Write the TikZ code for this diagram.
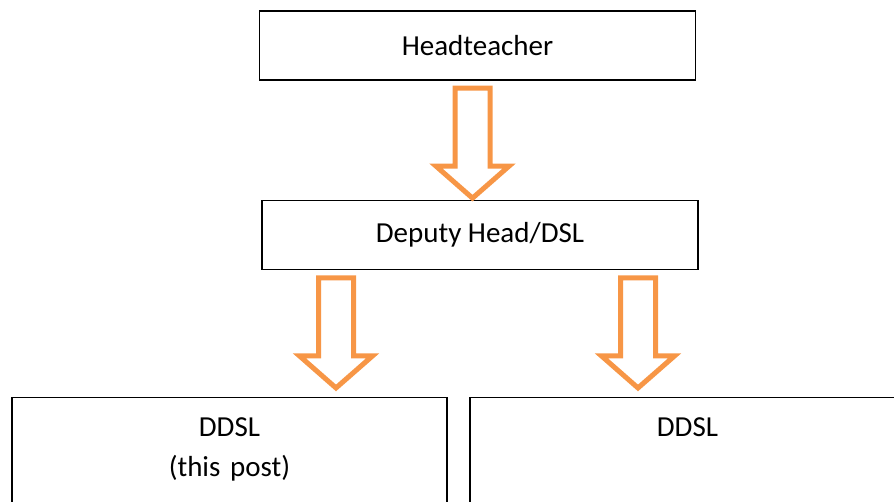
\documentclass[tikz,border=0pt]{standalone}
\usepackage{fontspec}
\setmainfont{Carlito}
\usepackage{tikz}
\usetikzlibrary{positioning}
\usetikzlibrary{calc}
\definecolor{arroworange}{HTML}{F79646}
\tikzset{auto, x=1pt, y=1pt, font=\fontsize{29}{40}\selectfont}
\tikzstyle{block} = [draw, line width=1.3pt, rectangle, minimum width=436pt, minimum height=69pt, text centered, align=center]
\tikzstyle{post} = [draw, line width=1.3pt, rectangle, minimum width=435pt, text width=400pt, align=center, inner ysep=20pt, text depth=90pt]
\tikzstyle{fat} = [draw=arroworange, line width=5pt, fill=white, line join=miter]
% block arrow pointing down from #1 (top middle of the shaft)
\newcommand{\fatarrow}[1]{
    \draw [fat] ($(#1)+(-17.5,0)$) -- ++(0,-78) -- ++(-19,0) -- ($(#1)+(0,-110)$)
        -- ($(#1)+(36.5,-78)$) -- ++(-19,0) -- ++(0,78) -- cycle;
}

\begin{document}
\begin{tikzpicture}
    \useasboundingbox (0,0) rectangle (894,-502);

    \node [block] (head) at (477.5,-45.5) {Headteacher};
    \node [block, below=119pt of head, xshift=2.5pt] (deputy) {Deputy Head/DSL};
    \node [post, anchor=north] (ddsl_a) at (229.5,-397) {DDSL\\(this post)};
    \node [post, anchor=north] (ddsl_b) at (687.5,-397) {DDSL};

    \coordinate (a_head) at ([xshift=-5pt,yshift=-7.5pt]head.south);
    \coordinate (a_left) at ([xshift=-144pt,yshift=-8pt]deputy.south);
    \coordinate (a_right) at ([xshift=158pt,yshift=-8pt]deputy.south);

    \fatarrow{a_head}
    \fatarrow{a_left}
    \fatarrow{a_right}
\end{tikzpicture}
\end{document}
